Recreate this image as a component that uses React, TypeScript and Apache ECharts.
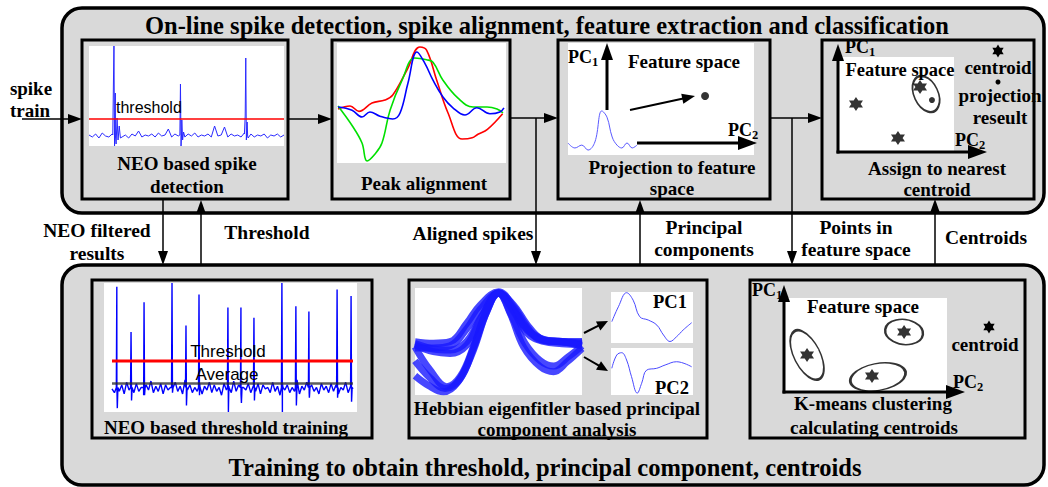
import { useEffect, useRef } from "react";
import * as echarts from "echarts";

// ---- NEO based spike detection: baseline samples (evenly spaced over 0..100) + spike waveforms
const detectNoise = [
  11, 9, 12, 8, 13, 10, 9, 12, 10, 14,
  9, 11, 8, 12, 10, 15, 9, 11, 10, 12,
  9, 13, 10, 11, 17, 9, 12, 10, 11, 9,
  12, 10, 13, 9, 11, 10, 12, 9, 20, 10,
  11, 19, 9, 12, 10, 11, 9, 13, 10, 12,
  9, 11, 10, 12, 8, 11, 10, 12, 9, 11,
];
const detectSpikes = [
  [[12.2, 11], [12.5, 60], [12.8, 100], [13.1, 0], [13.5, 53], [13.9, 2], [14.4, 28], [14.9, 6], [15.5, 20], [16.1, 8]],
  [[46.6, 11], [46.9, 62], [47.2, 0], [47.6, 26], [48.0, 6], [48.5, 14]],
  [[79.7, 12], [80.1, 30], [80.4, 88], [80.7, 6], [81.1, 24], [81.6, 8]],
];
const detectThreshold = 27;

// ---- Peak alignment: three aligned spikes
const alignRed = [[0.6, 45], [7.7, 47.5], [13, 43], [20.7, 50], [28.4, 52.5], [33, 56.7], [41.4, 77.5], [49, 96.7], [53, 94], [59, 69], [65.7, 41.7], [74, 20], [80, 21], [83.4, 24], [89, 28], [98, 41]];
const alignBlue = [[0.6, 46.7], [8.9, 44], [14.8, 38.3], [19.5, 42.5], [25.4, 39], [33, 36.7], [37.3, 41.7], [42, 66.7], [47.3, 92.5], [52, 83], [56.8, 69], [62.7, 55], [68.6, 46], [75.7, 40], [82.8, 46], [90.5, 41], [96.4, 42.5], [98.8, 46]];
const alignGreen = [[0.6, 47.5], [9.5, 30], [14.8, 16.7], [17.8, 1.7], [22.5, 7.5], [26.6, 16.7], [31.4, 44], [38.5, 69], [46, 87.5], [53, 86], [56.8, 84], [62.7, 69], [71.6, 54], [80.5, 46.7], [88.8, 46.7], [94.7, 45], [98.2, 41.7]];

// ---- Projection to feature space
const projSpike = [[0, 26.7], [10, 15.6], [20, 22], [29, 11], [39, 29], [49, 98], [56.5, 84], [64, 40], [71, 22], [78, 15.6], [85.5, 26.7], [93, 15.6], [100, 22]];
const projPoint = [[73.7, 52.7]];

// ---- Assign to nearest centroid
const assignCentroids = [[15.5, 50.5], [51.7, 14.7], [70.7, 68.4]];
const assignProjection = [[81, 54.7]];
const assignCluster = [[75.9, 61]];

// ---- NEO based threshold training
const trainNoise = [
  18, 15, 22, 16, 21, 14, 23, 17, 20, 15,
  22, 16, 19, 13, 21, 17, 24, 15, 20, 16,
  22, 14, 21, 17, 19, 15, 23, 16, 20, 14,
  25, 17, 21, 15, 19, 16, 22, 14, 20, 17,
  23, 15, 21, 16, 19, 13, 22, 17, 20, 15,
  24, 16, 21, 14, 19, 17, 22, 15, 20, 16,
  22, 14, 21, 18, 19, 15, 23, 16, 20, 13,
  22, 17, 21, 15, 19, 16, 25, 14, 20, 17,
  23, 15, 21, 16, 19, 14, 22, 17, 20, 15,
  22, 16, 21, 14, 19, 17, 23, 15, 20, 18,
];
const trainSpikeAt = [2, 7.9, 13.3, 24.9, 30.7, 36.1, 48.1, 53.5, 58.9, 70.5, 76.3, 81.7, 93.4, 99.2];
const trainSpikePeak = [97, 62, 85, 100, 67, 91, 81, 81, 73, 100, 82, 78, 95, 90];
const trainSpikeTrough = [3, 9, 13, 15, 5, 13, 0, 7, 9, 0, 5, 11, 11, 8];
const trainThreshold = 39.5;
const trainAverage = 22;

// ---- Hebbian eigenfilter PCA: aligned spike waveforms and the two components
const hebbWaves = [
  [[0, 49.8], [11, 48.3], [21, 49.8], [31, 67], [39, 84], [50, 96.5], [59, 82.5], [67, 63.9], [75, 51.4], [85, 49.8], [100, 48.9]],
  [[0, 44], [11, 44], [21, 46], [31, 62], [39, 80], [50, 95], [59, 84], [67, 66], [75, 53], [85, 50], [100, 50]],
  [[0, 45], [9, 23.4], [19, 7.8], [27, 17], [35, 45], [43, 79.4], [50, 95.6], [59, 79.4], [67, 60.7], [77, 51.4], [87, 49.8], [100, 47.7]],
  [[0, 32], [9, 16], [18, 6], [27, 15], [35, 44], [43, 78], [50, 95], [59, 78], [67, 58], [77, 50], [88, 48], [100, 47]],
  [[0, 18], [8, 9], [17, 3], [26, 13], [35, 42], [43, 78], [50, 95], [59, 80], [67, 62], [77, 52], [88, 50], [100, 46]],
  [[0, 46.7], [11, 40.5], [21, 38.9], [31, 46.7], [39, 70], [50, 95], [57, 76.3], [65, 45], [75, 26.5], [83, 21.8], [91, 31], [100, 43.6]],
  [[0, 48], [11, 43], [21, 42], [31, 50], [40, 74], [50, 95], [58, 74], [66, 48], [75, 32], [83, 27], [92, 36], [100, 46]],
];
const pc1Wave = [[1, 41.8], [9, 71], [19, 98.6], [27, 84], [35, 51.6], [45.5, 45], [56, 35], [64, 15.7], [72, 3], [80, 12.4], [88, 25.5], [98.4, 39.8]];
const pc2Wave = [[1, 56.8], [7, 85], [13, 90], [19, 74.5], [25, 39], [32, 4], [37.4, 25], [43.5, 53], [55.7, 56.8], [66, 63.8], [80, 70.8], [98.4, 60]];

// ---- K-means clustering
const kmCentroids = [[13.6, 39.4], [73.5, 63.8], [53.7, 17]];
const kmClusters = [[13.6, 39.4], [73.5, 63.8], [57.4, 16]];

// ---------------------------------------------------------------------------

const SERIF = '"Liberation Serif", "Times New Roman", serif';
const SANS = '"Liberation Sans", Arial, sans-serif';
const STAR = "path://M0,-10L8.66,5L-8.66,5Z M0,10L-8.66,-5L8.66,-5Z";

function traceFrom(noise: number[], spikes: number[][][]) {
  const pts: number[][] = noise.map((v, i) => [(i * 100) / (noise.length - 1), v]);
  spikes.forEach((s) => s.forEach((p) => pts.push(p)));
  return pts.sort((a, b) => a[0] - b[0]);
}

function txt(text: string, x: number, y: number, size: number, align = "center", weight = "bold", family = SERIF) {
  return {
    type: "text",
    z: 10,
    style: {
      text, x, y,
      font: `${weight} ${size}px ${family}`,
      fill: "#000",
      textAlign: align, align,
      textVerticalAlign: "middle", verticalAlign: "middle",
    },
  };
}

function pcLabel(x: number, y: number, sub: string) {
  return [txt("PC", x, y, 18, "left"), txt(sub, x + 24, y + 5, 12.5, "left")];
}

function arrow(x1: number, y1: number, x2: number, y2: number, w = 1.5, hl = 14, hw = 5) {
  const dx = x2 - x1, dy = y2 - y1, L = Math.hypot(dx, dy);
  const ux = dx / L, uy = dy / L;
  const bx = x2 - ux * hl, by = y2 - uy * hl;
  return [
    { type: "line", z: 5, shape: { x1, y1, x2: bx + ux, y2: by + uy }, style: { stroke: "#000", lineWidth: w } },
    {
      type: "polygon", z: 5,
      shape: { points: [[x2, y2], [bx - uy * hw, by + ux * hw], [bx + uy * hw, by - ux * hw]] },
      style: { fill: "#000" },
    },
  ];
}

function star(cx: number, cy: number, r: number) {
  const h = r * 0.866, k = r * 0.5;
  return [
    { type: "polygon", z: 6, shape: { points: [[cx, cy - r], [cx + h, cy + k], [cx - h, cy + k]] }, style: { fill: "#000" } },
    { type: "polygon", z: 6, shape: { points: [[cx, cy + r], [cx - h, cy - k], [cx + h, cy - k]] }, style: { fill: "#000" } },
  ];
}

const rect = (x: number, y: number, w: number, h: number, fill: string, stroke?: string, lw = 0, r = 0) => ({
  type: "rect",
  shape: { x, y, width: w, height: h, r },
  style: { fill, stroke: stroke || "none", lineWidth: lw },
});

function buildOption() {
  const graphic: any[] = [
    // panels
    rect(62, 8, 982, 205, "#d9d9d9", "#000", 3.5, 20),
    rect(62, 265, 982, 220, "#d9d9d9", "#000", 3.5, 20),
    // top row boxes
    rect(82, 40, 206, 159, "none", "#000", 3),
    rect(332, 40, 178, 159, "none", "#000", 3),
    rect(558, 40, 212, 159, "none", "#000", 3),
    rect(822, 40, 212, 159, "none", "#000", 3),
    // bottom row boxes
    rect(92, 280, 280, 158, "none", "#000", 3),
    rect(409, 280, 298, 158, "none", "#000", 3),
    rect(750, 280, 275, 158, "none", "#000", 3),
    // white plotting areas
    rect(89, 46, 195, 100, "#fff"),
    rect(337, 43, 169, 120, "#fff"),
    rect(568, 43, 186, 112, "#fff"),
    rect(838, 57, 116, 95, "#fff"),
    rect(104, 283, 253, 129, "#fff"),
    rect(415, 288, 167, 107, "#fff"),
    rect(611, 292, 82, 51, "#fff"),
    rect(611, 348, 82, 47, "#fff"),
    rect(785, 298, 162, 94, "#fff"),

    // flow arrows
    ...arrow(22, 119, 82, 119),
    ...arrow(288, 119, 332, 119),
    ...arrow(510, 118, 558, 118),
    ...arrow(770, 118, 822, 118),
    ...arrow(163, 200, 163, 265),
    ...arrow(201, 266, 201, 200),
    ...arrow(536, 118, 536, 265),
    ...arrow(640, 266, 640, 200),
    ...arrow(792, 118, 792, 265),
    ...arrow(935, 266, 935, 199),

    // feature space axes
    ...arrow(607, 110, 607, 43, 3, 17, 6),
    ...arrow(637, 143, 757, 143, 3, 19, 7),
    ...arrow(630, 110, 695, 96, 2, 13, 5),
    ...arrow(838, 153.5, 838, 44, 3, 17, 6),
    ...arrow(836.5, 152, 987, 152, 3, 19, 7),
    ...arrow(784, 393.5, 784, 285, 3, 17, 6),
    ...arrow(782.5, 392, 965, 392, 3, 19, 7),
    ...arrow(584, 333, 608, 321, 2, 11, 5),
    ...arrow(584, 357, 608, 371, 2, 11, 5),

    // legend glyphs
    ...star(998, 51, 6.5),
    { type: "circle", z: 6, shape: { cx: 998, cy: 82, r: 2.5 }, style: { fill: "#000" } },
    ...star(989, 327, 6.5),

    // titles
    txt("On-line spike detection, spike alignment, feature extraction and classification", 547, 25, 24.5),
    txt("Training to obtain threshold, principal component, centroids", 545, 467, 24.5),

    // captions
    txt("spike", 31, 88, 19),
    txt("train", 30, 110, 19),
    txt("threshold", 116, 107, 16, "left", "normal", SANS),
    txt("NEO based spike", 187, 163, 19),
    txt("detection", 187, 186, 19),
    txt("Peak alignment", 424, 183, 19),
    ...pcLabel(568, 57, "1"),
    txt("Feature space", 684, 61, 19),
    ...pcLabel(728, 130, "2"),
    txt("Projection to feature", 672, 167, 19),
    txt("space", 672, 188, 19),
    ...pcLabel(845, 46.5, "1"),
    txt("Feature space", 900, 69.5, 18.5),
    ...pcLabel(955, 140, "2"),
    txt("centroid", 998, 67, 19),
    txt("projection", 1000, 95, 19),
    txt("reseult", 1000, 117, 19),
    txt("Assign to nearest", 937, 168, 19),
    txt("centroid", 937, 189, 19),

    txt("NEO filtered", 97, 230, 19.5),
    txt("results", 97, 253, 19.5),
    txt("Threshold", 267, 232, 19.5),
    txt("Aligned spikes", 473, 233, 19.5),
    txt("Principal", 704, 227, 19.5),
    txt("components", 704, 249, 19.5),
    txt("Points in", 856, 227, 19.5),
    txt("feature space", 856, 249, 19.5),
    txt("Centroids", 986, 237, 19.5),

    txt("Threshold", 228, 351, 17, "center", "normal", SANS),
    txt("Average", 227, 374, 17, "center", "normal", SANS),
    txt("NEO based threshold training", 226, 427, 19),
    txt("PC1", 670, 302, 18.5),
    txt("PC2", 672, 388, 18.5),
    txt("Hebbian eigenfitler based principal", 557, 408, 19),
    txt("component analysis", 557, 429, 19),
    ...pcLabel(752, 290, "1"),
    txt("Feature space", 863, 306, 19),
    ...pcLabel(953, 382, "2"),
    txt("centroid", 985, 344, 19),
    txt("K-means clustering", 873, 403, 19),
    txt("calculating centroids", 874, 427, 19),
  ];

  // plotting grids (all axes hidden, 0..100 in both directions)
  const grids = [
    [89, 46, 195, 100], // 0 spike detection trace
    [337, 43, 169, 120], // 1 peak alignment
    [568, 110, 69, 45], // 2 spike inset
    [568, 43, 186, 112], // 3 projection feature space
    [838, 57, 116, 95], // 4 assignment feature space
    [112, 283, 241, 129], // 5 threshold training trace
    [415, 288, 167, 107], // 6 aligned spike waveforms
    [611, 292, 82, 51], // 7 PC1
    [611, 348, 82, 47], // 8 PC2
    [785, 298, 162, 94], // 9 k-means feature space
  ];

  const line = (gi: number, data: any[], color: string, width: number, extra: any = {}) => ({
    type: "line", xAxisIndex: gi, yAxisIndex: gi, data, symbol: "none", silent: true,
    lineStyle: { color, width }, ...extra,
  });
  const dots = (gi: number, data: any[], symbol: string, size: number, extra: any = {}) => ({
    type: "scatter", xAxisIndex: gi, yAxisIndex: gi, data, symbol, symbolSize: size, silent: true,
    itemStyle: { color: "#000" }, ...extra,
  });
  const ellipses = (gi: number, centers: number[][], shapes: { size: number[]; rot: number }[]) => ({
    type: "scatter", xAxisIndex: gi, yAxisIndex: gi, silent: true, symbol: "circle",
    data: centers.map((c, i) => ({ value: c, symbolSize: shapes[i].size, symbolRotate: shapes[i].rot })),
    itemStyle: { color: "rgba(0,0,0,0)", borderColor: "#000", borderWidth: 2 },
  });

  const trainSpikes = trainSpikeAt.map((t, i) => [
    [t - 0.2, 19], [t, trainSpikePeak[i]], [t + 0.2, trainSpikeTrough[i]], [t + 0.45, 19],
  ]);

  const series: any[] = [
    line(0, traceFrom(detectNoise, detectSpikes), "#2a2aff", 1),
    line(0, [[0, detectThreshold], [100, detectThreshold]], "#ff0000", 1.5),

    line(1, alignRed, "#ff0000", 1.6, { smooth: 0.4 }),
    line(1, alignGreen, "#00e000", 1.6, { smooth: 0.4 }),
    line(1, alignBlue, "#0000ff", 1.6, { smooth: 0.4 }),

    line(2, projSpike, "#5a5aff", 1, { smooth: 0.4 }),
    dots(3, projPoint, "circle", 8),

    dots(4, assignCentroids, STAR, 14),
    dots(4, assignProjection, "circle", 6),
    ellipses(4, assignCluster, [{ size: [24, 38], rot: 25 }]),

    line(5, traceFrom(trainNoise, trainSpikes), "#0000ff", 1.4),
    line(5, [[0, trainAverage], [100, trainAverage]], "rgba(40,40,40,0.75)", 2.5),
    line(5, [[0, trainThreshold], [100, trainThreshold]], "#ff0000", 3),

    ...hebbWaves.map((w) => line(6, w, "rgba(25,25,255,0.8)", 7, { smooth: 0.4 })),

    line(7, pc1Wave, "#4a4aff", 1, { smooth: 0.4 }),
    line(8, pc2Wave, "#4a4aff", 1, { smooth: 0.4 }),

    dots(9, kmCentroids, STAR, 14),
    ellipses(9, kmClusters, [
      { size: [26, 54], rot: 27 },
      { size: [38, 25], rot: -8 },
      { size: [56, 27], rot: 10 },
    ]),
  ];

  return {
    animation: false,
    backgroundColor: "#fff",
    graphic: { elements: graphic },
    grid: grids.map(([left, top, width, height]) => ({ left, top, width, height, containLabel: false, outerBoundsMode: "none" })),
    xAxis: grids.map((_, i) => ({ gridIndex: i, type: "value", min: 0, max: 100, show: false })),
    yAxis: grids.map((_, i) => ({ gridIndex: i, type: "value", min: 0, max: 100, show: false })),
    series,
  };
}

export default function App() {
  const ref = useRef<HTMLDivElement>(null);
  useEffect(() => {
    if (!ref.current) return;
    const chart = echarts.init(ref.current, null, { renderer: "svg" });
    chart.setOption(buildOption() as any);
    return () => chart.dispose();
  }, []);
  return (
    <div
      ref={ref}
      style={{ position: "absolute", left: 0, top: 0, width: 1048, height: 487 }}
    />
  );
}
